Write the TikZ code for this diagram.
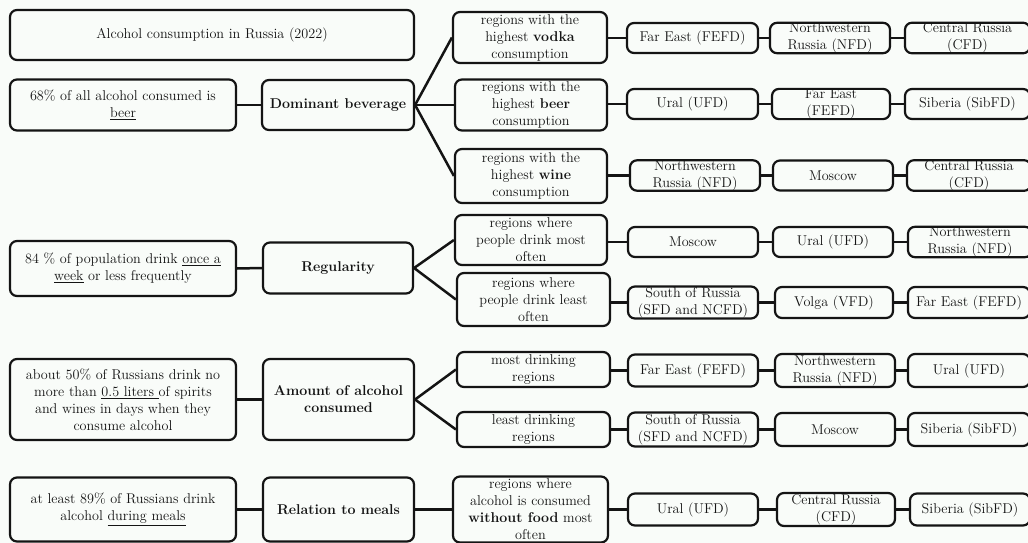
\documentclass[tikz,border=0pt]{standalone}
\definecolor{bg}{RGB}{249,252,249}
\definecolor{ink}{RGB}{20,20,20}
\tikzset{
  box/.style={draw=ink, line width=2.2pt, rounded corners=7pt, align=center,
    inner sep=0pt, text=ink, font=\fontsize{14.2}{17}\selectfont},
  link/.style={draw=ink, line width=2.5pt},
}
\begin{document}
\begin{tikzpicture}[x=1pt,y=-1pt]
\fill[bg] (0,0) rectangle (1028,543);
\useasboundingbox (0,0) rectangle (1028,543);

% title
\node[box, minimum width=404pt, minimum height=50pt] (title) at (212,35) {Alcohol consumption in Russia (2022)};

% ---- Dominant beverage
\node[box, minimum width=226pt, minimum height=51pt] (f1) at (123,105) {68\% of all alcohol consumed is\\\underline{beer}};
\node[box, minimum width=152pt, minimum height=50pt] (c1) at (338,105) {\textbf{Dominant beverage}};
\node[box, minimum width=154pt, minimum height=51pt] (vodka) at (530,37.5) {regions with the\\highest \textbf{vodka}\\consumption};
\node[box, minimum width=152pt, minimum height=51pt] (beer) at (531,105) {regions with the\\highest \textbf{beer}\\consumption};
\node[box, minimum width=152pt, minimum height=54pt] (wine) at (531,176) {regions with the\\highest \textbf{wine}\\consumption};

\node[box, minimum width=131pt, minimum height=30pt] (va) at (692.5,38) {Far East (FEFD)};
\node[box, minimum width=120pt, minimum height=30pt] (vb) at (830,38) {Northwestern\\Russia (NFD)};
\node[box, minimum width=125pt, minimum height=30pt] (vc) at (967.5,38) {Central Russia\\(CFD)};

\node[box, minimum width=131pt, minimum height=30pt] (ba) at (692.5,104) {Ural (UFD)};
\node[box, minimum width=118pt, minimum height=30pt] (bb) at (831,104) {Far East\\(FEFD)};
\node[box, minimum width=125pt, minimum height=30pt] (bc) at (967.5,104) {Siberia (SibFD)};

\node[box, minimum width=130pt, minimum height=30pt] (wa) at (695,175.5) {Northwestern\\Russia (NFD)};
\node[box, minimum width=120pt, minimum height=30pt] (wb) at (833,175.5) {Moscow};
\node[box, minimum width=124pt, minimum height=30pt] (wc) at (969,175.5) {Central Russia\\(CFD)};

% ---- Regularity
\node[box, minimum width=226pt, minimum height=55pt] (f2) at (123,268.5) {84 \% of population drink \underline{once a}\\\underline{week} or less frequently};
\node[box, minimum width=150pt, minimum height=51pt] (c2) at (338,268) {\textbf{Regularity}};
\node[box, minimum width=152pt, minimum height=50pt] (most) at (531,240) {regions where\\people drink most\\often};
\node[box, minimum width=153pt, minimum height=53pt] (least) at (533.5,299.5) {regions where\\people drink least\\often};

\node[box, minimum width=130pt, minimum height=30pt] (ma) at (693,242) {Moscow};
\node[box, minimum width=120pt, minimum height=30pt] (mb) at (833,242) {Ural (UFD)};
\node[box, minimum width=124pt, minimum height=30pt] (mc) at (970,242) {Northwestern\\Russia (NFD)};

\node[box, minimum width=130pt, minimum height=32pt] (la) at (693,302.5) {South of Russia\\(SFD and NCFD)};
\node[box, minimum width=118pt, minimum height=31pt] (lb) at (834,302.5) {Volga (VFD)};
\node[box, minimum width=122pt, minimum height=31pt] (lc) at (969,302.5) {Far East (FEFD)};

% ---- Amount
\node[box, minimum width=226pt, minimum height=81pt] (f3) at (123,399.5) {about 50\% of Russians drink no\\more than \underline{0.5 liters\ }of spirits\\and wines in days when they\\consume alcohol};
\node[box, minimum width=151pt, minimum height=81pt] (c3) at (338.5,399.5) {\textbf{Amount of alcohol}\\\textbf{consumed}};
\node[box, minimum width=153pt, minimum height=35pt] (mdr) at (533.5,369.5) {most drinking\\regions};
\node[box, minimum width=153pt, minimum height=35pt] (ldr) at (533.5,429.5) {least drinking\\regions};

\node[box, minimum width=130pt, minimum height=32pt] (da) at (693,370.5) {Far East (FEFD)};
\node[box, minimum width=120pt, minimum height=33pt] (db) at (835,370.5) {Northwestern\\Russia (NFD)};
\node[box, minimum width=122pt, minimum height=33pt] (dc) at (969,370.5) {Ural (UFD)};

\node[box, minimum width=130pt, minimum height=34pt] (ea) at (693,429.5) {South of Russia\\(SFD and NCFD)};
\node[box, minimum width=120pt, minimum height=33pt] (eb) at (835,429.5) {Moscow};
\node[box, minimum width=122pt, minimum height=33pt] (ec) at (969,429.5) {Siberia (SibFD)};

% ---- Meals
\node[box, minimum width=226pt, minimum height=64pt] (f4) at (123,509.5) {at least 89\% of Russians drink\\alcohol \underline{during meals}};
\node[box, minimum width=151pt, minimum height=64pt] (c4) at (338.5,509.5) {\textbf{Relation to meals}};
\node[box, minimum width=155pt, minimum height=66pt] (food) at (530.5,509.5) {regions where\\alcohol is consumed\\\textbf{without food} most\\often};

\node[box, minimum width=130pt, minimum height=32pt] (ga) at (693,509.5) {Ural (UFD)};
\node[box, minimum width=118pt, minimum height=33pt] (gb) at (836,509.5) {Central Russia\\(CFD)};
\node[box, minimum width=120pt, minimum height=32pt] (gc) at (970,509.5) {Siberia (SibFD)};

% ---- connectors
\draw[link] (f1.east) -- (c1.west);
\draw[link] (c1.east) -- (vodka.west);
\draw[link] (c1.east) -- (beer.west);
\draw[link] (c1.east) -- (wine.west);
\draw[link] (vodka.east |- va.west) -- (va.west);
\draw[link] (va.east) -- (vb.west);
\draw[link] (vb.east) -- (vc.west);
\draw[link] (beer.east |- ba.west) -- (ba.west);
\draw[link] (ba.east) -- (bb.west);
\draw[link] (bb.east) -- (bc.west);
\draw[link] (wine.east |- wa.west) -- (wa.west);
\draw[link] (wa.east) -- (wb.west);
\draw[link] (wb.east) -- (wc.west);

\draw[link] (f2.east) -- (c2.west);
\draw[link] (c2.east) -- (most.west);
\draw[link] (c2.east) -- (least.west);
\draw[link] (most.east |- ma.west) -- (ma.west);
\draw[link] (ma.east) -- (mb.west);
\draw[link] (mb.east) -- (mc.west);
\draw[link] (least.east |- la.west) -- (la.west);
\draw[link] (la.east) -- (lb.west);
\draw[link] (lb.east) -- (lc.west);

\draw[link] (f3.east) -- (c3.west);
\draw[link] (c3.east) -- (mdr.west);
\draw[link] (c3.east) -- (ldr.west);
\draw[link] (mdr.east |- da.west) -- (da.west);
\draw[link] (da.east) -- (db.west);
\draw[link] (db.east) -- (dc.west);
\draw[link] (ldr.east |- ea.west) -- (ea.west);
\draw[link] (ea.east) -- (eb.west);
\draw[link] (eb.east) -- (ec.west);

\draw[link] (f4.east) -- (c4.west);
\draw[link] (c4.east) -- (food.west);
\draw[link] (food.east |- ga.west) -- (ga.west);
\draw[link] (ga.east) -- (gb.west);
\draw[link] (gb.east) -- (gc.west);
\end{tikzpicture}
\end{document}
